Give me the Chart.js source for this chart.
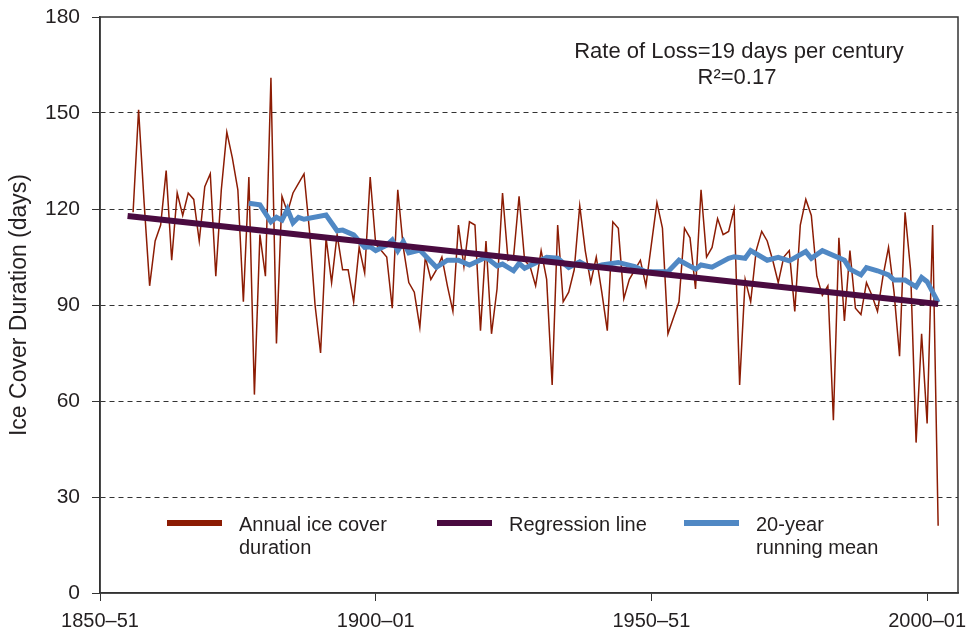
<!DOCTYPE html>
<html>
<head>
<meta charset="utf-8">
<script src="https://cdn.jsdelivr.net/npm/chart.js@4.4.1/dist/chart.umd.min.js"></script>
<style>
  body { margin: 0; background: #fff; }
  #wrap { width: 966px; height: 635px; }
</style>
</head>
<body>
<div id="wrap"><canvas id="iceChart"></canvas></div>
<script>
// Ice seasons, plotted at the year the winter ends (1855–56 -> 1856)
const seasonYears = [
  1856, 1857, 1858, 1859,
  1860, 1861, 1862, 1863, 1864, 1865, 1866, 1867, 1868, 1869,
  1870, 1871, 1872, 1873, 1874, 1875, 1876, 1877, 1878, 1879,
  1880, 1881, 1882, 1883, 1884, 1885, 1886, 1887, 1888, 1889,
  1890, 1891, 1892, 1893, 1894, 1895, 1896, 1897, 1898, 1899,
  1900, 1901, 1902, 1903, 1904, 1905, 1906, 1907, 1908, 1909,
  1910, 1911, 1912, 1913, 1914, 1915, 1916, 1917, 1918, 1919,
  1920, 1921, 1922, 1923, 1924, 1925, 1926, 1927, 1928, 1929,
  1930, 1931, 1932, 1933, 1934, 1935, 1936, 1937, 1938, 1939,
  1940, 1941, 1942, 1943, 1944, 1945, 1946, 1947, 1948, 1949,
  1950, 1951, 1952, 1953, 1954, 1955, 1956, 1957, 1958, 1959,
  1960, 1961, 1962, 1963, 1964, 1965, 1966, 1967, 1968, 1969,
  1970, 1971, 1972, 1973, 1974, 1975, 1976, 1977, 1978, 1979,
  1980, 1981, 1982, 1983, 1984, 1985, 1986, 1987, 1988, 1989,
  1990, 1991, 1992, 1993, 1994, 1995, 1996, 1997, 1998, 1999,
  2000, 2001, 2002
];

// Annual ice cover duration (days)
const iceDays = [
  119, 151, 122, 96,
  110, 115, 132, 104, 125, 118, 125, 123, 110, 127,
  131, 99, 126, 144, 136, 126, 91, 130, 62, 112,
  99, 161, 78, 124, 119, 125, 128, 131, 113, 90,
  75, 111, 97, 112, 101, 101, 91, 108, 100, 130,
  109, 107, 105, 89, 126, 108, 97, 94, 83, 105,
  98, 101, 105, 96, 88, 115, 102, 116, 115, 82,
  110, 81, 95, 125, 104, 105, 124, 104, 102, 96,
  107, 98, 65, 115, 91, 94, 101, 121, 107, 97,
  105, 94, 82, 116, 114, 92, 98, 101, 104, 96,
  109, 122, 114, 81, 86, 91, 114, 111, 95, 126,
  105, 108, 117, 112, 113, 120, 65, 98, 91, 107,
  113, 110, 104, 97, 105, 107, 88, 115, 123, 118,
  99, 93, 96, 54, 111, 85, 107, 89, 87, 97,
  93, 88, 99, 108, 94, 74, 119, 101, 47, 81,
  53, 115, 21
];

// 20-year running mean
const meanYears = [
  1877, 1879, 1881, 1882, 1883, 1884, 1885, 1886, 1887, 1891,
  1893, 1894, 1896, 1898, 1899, 1900, 1902, 1903, 1904, 1905,
  1906, 1908, 1911, 1913, 1915, 1917, 1920, 1922, 1923, 1925,
  1926, 1927, 1930, 1931, 1933, 1935, 1937, 1939, 1941, 1944,
  1947, 1949, 1953, 1955, 1958, 1959, 1961, 1964, 1965, 1967,
  1968, 1971, 1973, 1975, 1978, 1979, 1981, 1985, 1986, 1988,
  1989, 1991, 1993, 1994, 1996, 1998, 1999, 2000, 2002
];
const meanDays = [
  121.8, 121.3, 116, 117.4, 116.5, 119.9, 115.7, 117.4, 116.8, 118.1,
  113.2, 113.4, 111.9, 108, 108.2, 107, 108.7, 110.3, 107, 109.8,
  106.3, 107.2, 101.8, 104, 104, 102.5, 104.9, 102.2, 102.8, 100.7,
  103, 101.5, 104, 104.9, 104.6, 101.7, 103.5, 101.5, 102.5, 103.3,
  102, 100.4, 100.4, 104, 101.2, 102.5, 101.8, 104.6, 105.1, 104.6,
  107, 104, 104.9, 103.8, 106.7, 104.6, 107, 104, 101.2, 99.4,
  101.7, 100.7, 99.4, 97.8, 97.8, 95.7, 98.6, 97.3, 90.8
];

// Regression line end points
const regYears = [1855, 2002];
const regDays = [117.8, 90.3];

const xTickValues = [1850, 1900, 1950, 2000];
const xTickLabels = ['1850–51', '1900–01', '1950–51', '2000–01'];
const yTickStep = 30;

const seriesNames = ['Annual ice cover|duration', 'Regression line', '20-year|running mean'];
const annotationLines = ['Rate of Loss=19 days per century', 'R²=0.17'];

const RED = '#8c1c04';
const PURPLE = '#4a0b40';
const BLUE = '#5088c4';
const INK = '#231f20';
const FONT = 'Liberation Sans, Arial, sans-serif';

const toPoints = (xs, ys) => xs.map((x, i) => ({ x, y: ys[i] }));

// box round the plot + legend + text note
const decorPlugin = {
  id: 'decor',
  afterDraw(chart) {
    const { ctx, chartArea: a } = chart;
    ctx.save();
    ctx.strokeStyle = '#333';
    ctx.lineWidth = 1.5;
    ctx.strokeRect(a.left, a.top, a.right - a.left, a.bottom - a.top);

    ctx.fillStyle = INK;
    ctx.font = '22px ' + FONT;
    ctx.textAlign = 'center';
    ctx.textBaseline = 'middle';
    ctx.fillText(annotationLines[0], 739, 52);
    ctx.fillText(annotationLines[1], 737, 78);

    const colors = [RED, PURPLE, BLUE];
    const starts = [167, 437, 684];
    ctx.textAlign = 'left';
    ctx.font = '20px ' + FONT;
    seriesNames.forEach((name, i) => {
      ctx.strokeStyle = colors[i];
      ctx.lineWidth = 6;
      ctx.beginPath();
      ctx.moveTo(starts[i], 523);
      ctx.lineTo(starts[i] + 55, 523);
      ctx.stroke();
      name.split('|').forEach((line, j) => {
        ctx.fillText(line, starts[i] + 72, 525 + j * 23);
      });
    });
    ctx.restore();
  }
};

new Chart(document.getElementById('iceChart'), {
  type: 'line',
  data: {
    datasets: [
      {
        label: 'Regression line',
        data: toPoints(regYears, regDays),
        borderColor: PURPLE,
        borderWidth: 6,
        pointRadius: 0
      },
      {
        label: '20-year running mean',
        data: toPoints(meanYears, meanDays),
        borderColor: BLUE,
        borderWidth: 5,
        pointRadius: 0
      },
      {
        label: 'Annual ice cover duration',
        data: toPoints(seasonYears, iceDays),
        borderColor: RED,
        borderWidth: 1.5,
        pointRadius: 0
      }
    ]
  },
  options: {
    responsive: true,
    maintainAspectRatio: false,
    animation: false,
    layout: { padding: { top: 17, right: 8, left: 0, bottom: 0 } },
    plugins: { legend: { display: false }, tooltip: { enabled: false } },
    scales: {
      x: {
        type: 'linear',
        min: 1850,
        max: 2005.6,
        afterBuildTicks: s => { s.ticks = xTickValues.map(v => ({ value: v })); },
        afterFit: s => { s.height = 42; s.paddingLeft = 0; s.paddingRight = 0; },
        ticks: {
          callback: (v, i) => xTickLabels[i],
          maxRotation: 0,
          autoSkip: false,
          padding: 8,
          color: INK,
          font: { family: FONT, size: 20 }
        },
        grid: { drawOnChartArea: false, tickLength: 8, tickColor: '#333', color: '#333' },
        border: { color: '#333', width: 1.5 }
      },
      y: {
        min: 0,
        max: 180,
        afterFit: s => { s.width = 100; s.paddingTop = 0; s.paddingBottom = 0; },
        ticks: {
          stepSize: yTickStep,
          padding: 12,
          color: INK,
          font: { family: FONT, size: 21 }
        },
        grid: {
          color: c => (c.tick.value > 0 && c.tick.value < 180) ? '#333' : 'rgba(0,0,0,0)',
          tickColor: '#333',
          tickLength: 8,
          lineWidth: 1
        },
        border: { color: '#333', width: 1.5, dash: [5, 4] },
        title: {
          display: true,
          text: 'Ice Cover Duration (days)',
          color: INK,
          font: { family: FONT, size: 23 },
          padding: { top: 6, bottom: 4 }
        }
      }
    }
  },
  plugins: [decorPlugin]
});
</script>
</body>
</html>
